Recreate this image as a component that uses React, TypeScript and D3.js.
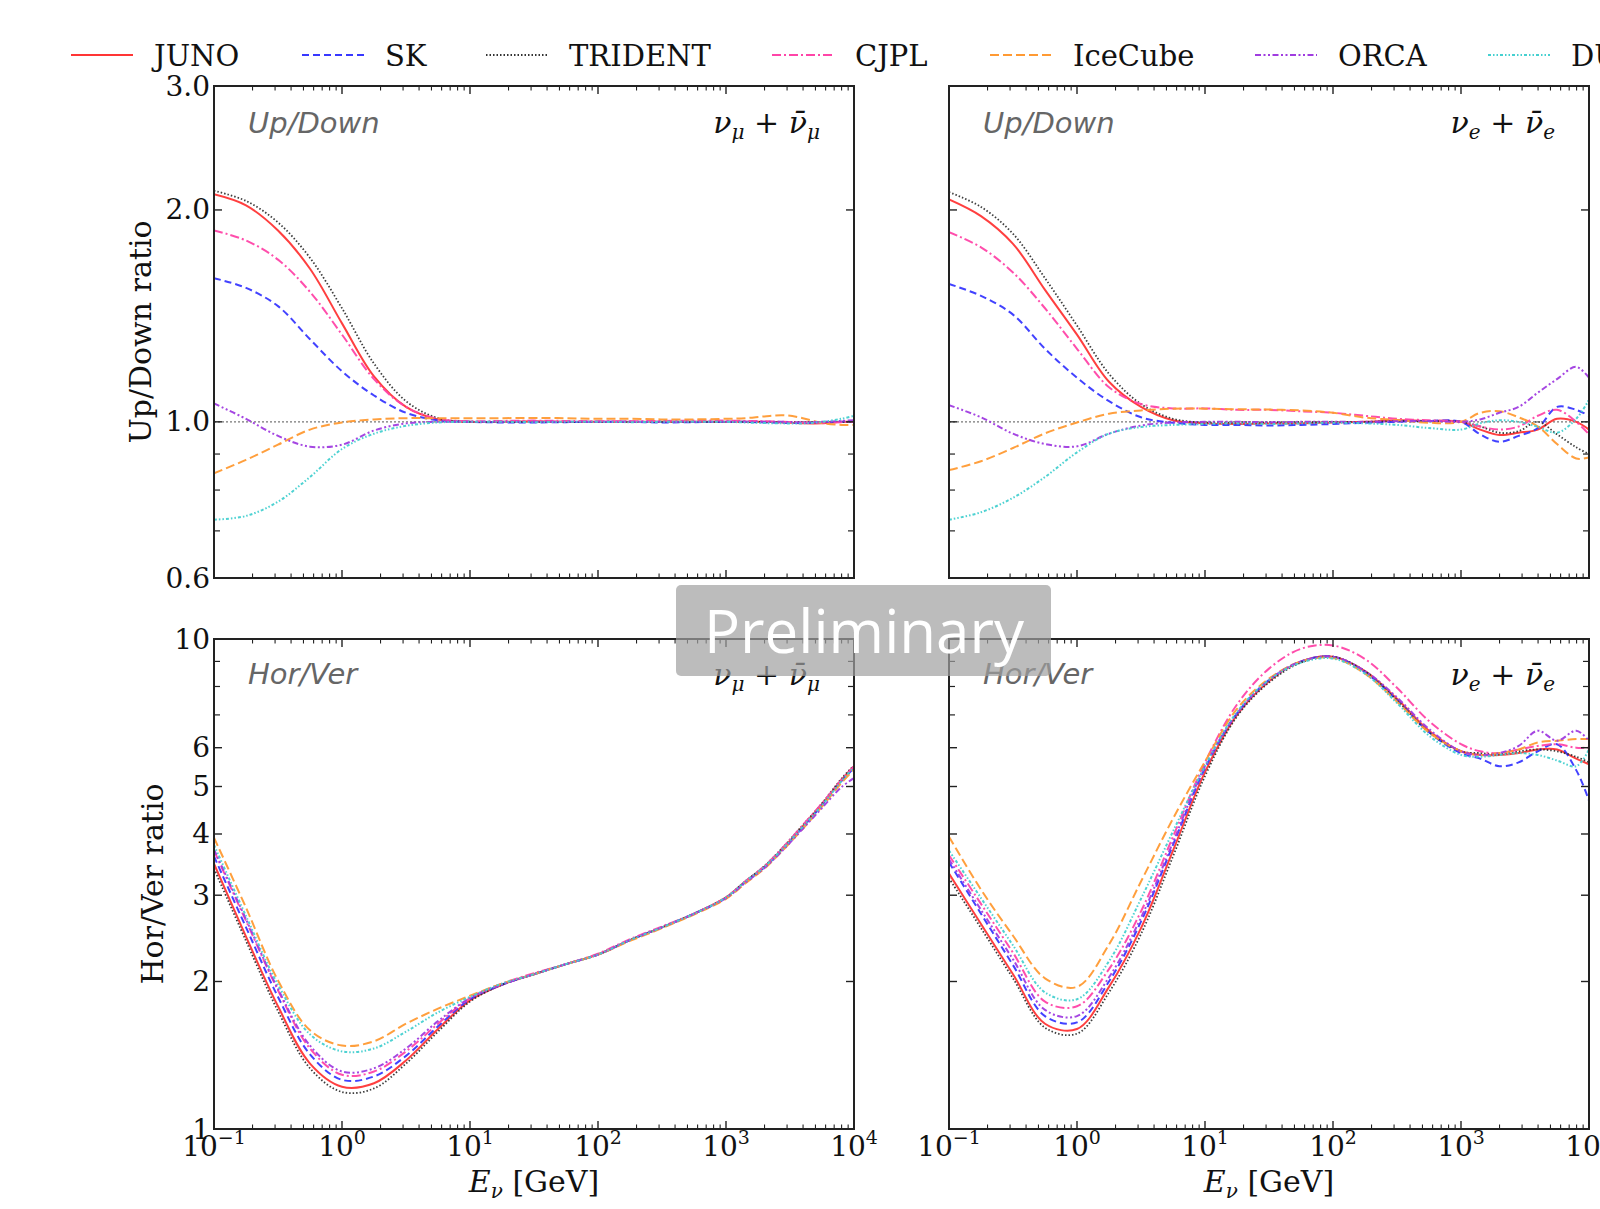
import React from 'react';
import * as d3 from 'd3';

// ---------- data ----------
const LOG_E = [-1, -0.75, -0.5, -0.25, 0, 0.25, 0.5, 0.75, 1, 1.25, 1.5, 1.75, 2, 2.25, 2.5, 2.75, 3, 3.15, 3.3, 3.45, 3.6, 3.75, 3.9, 4];

const SERIES = ['JUNO', 'SK', 'TRIDENT', 'CJPL', 'IceCube', 'ORCA', 'DUNE'];

// Up/Down, nu_mu + nubar_mu
const UD_MU_JUNO = [2.105, 2.03, 1.87, 1.65, 1.38, 1.16, 1.05, 1.008, 1.0, 1.0, 1.002, 1.0, 1.0, 1.0, 1.0, 1.0, 1.0, 1.0, 1.0, 0.998, 0.995, 0.995, 1.0, 1.0];
const UD_MU_SK = [1.6, 1.55, 1.46, 1.31, 1.18, 1.09, 1.03, 1.005, 1.0, 0.998, 0.998, 0.999, 1.0, 1.0, 0.998, 0.999, 1.0, 1.0, 0.998, 0.997, 0.996, 0.998, 1.0, 1.0];
const UD_MU_TRIDENT = [2.13, 2.06, 1.92, 1.71, 1.45, 1.21, 1.07, 1.012, 1.0, 1.0, 1.0, 1.0, 1.0, 1.0, 1.0, 1.0, 1.0, 1.0, 1.0, 1.0, 1.0, 1.0, 1.0, 1.0];
const UD_MU_CJPL = [1.87, 1.81, 1.7, 1.53, 1.33, 1.15, 1.05, 1.01, 1.002, 1.003, 1.004, 1.003, 1.002, 1.002, 1.003, 1.004, 1.004, 1.003, 1.002, 1.0, 0.998, 0.997, 0.999, 1.0];
const UD_MU_ICECUBE = [0.845, 0.883, 0.928, 0.975, 0.998, 1.008, 1.012, 1.012, 1.012, 1.012, 1.013, 1.012, 1.01, 1.01, 1.008, 1.008, 1.01, 1.012, 1.018, 1.022, 1.012, 0.996, 0.99, 0.99];
const UD_MU_ORCA = [1.062, 1.01, 0.955, 0.922, 0.928, 0.972, 0.995, 1.0, 1.0, 1.0, 1.0, 1.0, 1.0, 1.0, 1.0, 1.0, 1.0, 1.0, 1.0, 1.0, 0.998, 1.0, 1.003, 1.005];
const UD_MU_DUNE = [0.726, 0.735, 0.77, 0.835, 0.915, 0.962, 0.987, 0.998, 1.0, 1.0, 0.999, 1.0, 1.0, 0.999, 1.0, 1.0, 1.0, 0.998, 0.996, 0.995, 0.995, 1.0, 1.01, 1.02];

// Up/Down, nu_e + nubar_e
const UD_E_JUNO = [2.07, 1.96, 1.79, 1.54, 1.33, 1.14, 1.05, 1.005, 0.995, 0.993, 0.995, 0.995, 0.998, 1.0, 1.005, 1.003, 1.0, 0.975, 0.958, 0.965, 0.975, 1.01, 1.0, 0.975];
const UD_E_SK = [1.57, 1.51, 1.42, 1.27, 1.155, 1.07, 1.015, 0.997, 0.99, 0.99, 0.988, 0.99, 0.993, 0.997, 1.0, 1.003, 1.0, 0.96, 0.937, 0.955, 0.98, 1.05, 1.04, 1.02];
const UD_E_TRIDENT = [2.12, 2.02, 1.85, 1.6, 1.37, 1.17, 1.06, 1.01, 0.998, 0.998, 0.998, 0.999, 1.0, 1.0, 1.003, 1.002, 1.0, 0.985, 0.965, 0.97, 1.0, 0.96, 0.92, 0.9];
const UD_E_CJPL = [1.86, 1.77, 1.63, 1.45, 1.27, 1.12, 1.06, 1.045, 1.045, 1.04, 1.04, 1.035, 1.03, 1.02, 1.01, 1.005, 1.0, 0.985, 0.975, 0.985, 1.02, 1.04, 1.0, 0.96];
const UD_E_ICECUBE = [0.854, 0.879, 0.918, 0.963, 0.998, 1.027, 1.038, 1.044, 1.044, 1.042, 1.041, 1.038, 1.03, 1.014, 1.006, 0.997, 1.0, 1.03, 1.035, 1.015, 0.985, 0.93, 0.887, 0.89];
const UD_E_ORCA = [1.056, 1.015, 0.962, 0.93, 0.923, 0.962, 0.988, 0.998, 1.0, 1.0, 0.999, 1.0, 1.0, 1.0, 1.002, 1.003, 1.0, 1.008, 1.03, 1.05, 1.1, 1.15, 1.197, 1.155];
const UD_E_DUNE = [0.726, 0.744, 0.78, 0.835, 0.905, 0.962, 0.983, 0.99, 0.993, 0.995, 0.993, 0.995, 0.997, 0.995, 0.99, 0.98, 0.975, 0.995, 1.005, 1.0, 0.984, 0.965, 1.01, 1.075];

// Hor/Ver, nu_mu + nubar_mu
const HV_MU_JUNO = [3.48, 2.47, 1.78, 1.36, 1.22, 1.24, 1.38, 1.6, 1.83, 1.97, 2.07, 2.17, 2.27, 2.43, 2.58, 2.75, 2.97, 3.2, 3.43, 3.75, 4.15, 4.6, 5.15, 5.5];
const HV_MU_SK = [3.6, 2.58, 1.86, 1.42, 1.26, 1.28, 1.41, 1.62, 1.84, 1.97, 2.07, 2.17, 2.27, 2.43, 2.58, 2.75, 2.96, 3.19, 3.42, 3.74, 4.13, 4.58, 5.12, 5.45];
const HV_MU_TRIDENT = [3.4, 2.42, 1.74, 1.33, 1.19, 1.21, 1.36, 1.58, 1.82, 1.97, 2.07, 2.17, 2.27, 2.43, 2.58, 2.75, 2.97, 3.2, 3.44, 3.77, 4.17, 4.62, 5.18, 5.52];
const HV_MU_CJPL = [3.7, 2.66, 1.92, 1.46, 1.29, 1.31, 1.44, 1.64, 1.85, 1.98, 2.08, 2.17, 2.28, 2.44, 2.59, 2.75, 2.97, 3.2, 3.44, 3.77, 4.17, 4.62, 5.15, 5.5];
const HV_MU_ICECUBE = [3.93, 2.83, 2.01, 1.59, 1.48, 1.51, 1.64, 1.76, 1.87, 1.98, 2.07, 2.17, 2.27, 2.42, 2.57, 2.74, 2.95, 3.17, 3.4, 3.72, 4.1, 4.55, 5.08, 5.42];
const HV_MU_ORCA = [3.72, 2.68, 1.93, 1.48, 1.31, 1.33, 1.46, 1.66, 1.85, 1.97, 2.07, 2.17, 2.27, 2.43, 2.58, 2.75, 2.96, 3.18, 3.41, 3.72, 4.1, 4.52, 4.98, 5.2];
const HV_MU_DUNE = [3.8, 2.72, 1.97, 1.56, 1.44, 1.46, 1.58, 1.73, 1.86, 1.98, 2.07, 2.17, 2.27, 2.43, 2.58, 2.75, 2.97, 3.2, 3.43, 3.75, 4.14, 4.58, 5.12, 5.48];

// Hor/Ver, nu_e + nubar_e
const HV_E_JUNO = [3.32, 2.62, 2.07, 1.64, 1.6, 1.95, 2.57, 3.7, 5.35, 7.0, 8.2, 9.0, 9.2, 8.6, 7.55, 6.5, 5.9, 5.8, 5.8, 5.85, 5.95, 5.95, 5.7, 5.55];
const HV_E_SK = [3.5, 2.75, 2.16, 1.7, 1.65, 2.0, 2.65, 3.8, 5.45, 7.05, 8.25, 9.0, 9.2, 8.55, 7.5, 6.45, 5.85, 5.7, 5.5, 5.6, 5.9, 6.1, 5.4, 4.68];
const HV_E_TRIDENT = [3.25, 2.57, 2.03, 1.61, 1.565, 1.9, 2.5, 3.6, 5.25, 6.95, 8.15, 8.95, 9.2, 8.6, 7.5, 6.45, 5.9, 5.85, 5.82, 5.9, 5.95, 5.9, 5.75, 5.6];
const HV_E_CJPL = [3.62, 2.88, 2.29, 1.82, 1.78, 2.12, 2.78, 3.95, 5.6, 7.35, 8.7, 9.55, 9.7, 9.1, 7.95, 6.8, 6.1, 5.9, 5.85, 5.95, 6.05, 6.1, 6.0, 6.0];
const HV_E_ICECUBE = [3.95, 3.08, 2.48, 2.03, 1.95, 2.38, 3.2, 4.3, 5.62, 7.2, 8.3, 9.0, 9.15, 8.5, 7.45, 6.45, 5.9, 5.8, 5.85, 5.95, 6.15, 6.2, 6.25, 6.25];
const HV_E_ORCA = [3.55, 2.8, 2.22, 1.75, 1.7, 2.04, 2.7, 3.85, 5.5, 7.05, 8.25, 9.0, 9.2, 8.6, 7.6, 6.55, 5.9, 5.8, 5.85, 6.05, 6.5, 6.2, 6.5, 6.2];
const HV_E_DUNE = [3.7, 2.96, 2.37, 1.9, 1.84, 2.2, 2.95, 4.05, 5.5, 7.1, 8.25, 8.95, 9.12, 8.5, 7.4, 6.35, 5.8, 5.75, 5.8, 5.85, 5.8, 5.65, 5.5, 5.95];

const X_MAJOR = [-1, 0, 1, 2, 3, 4];
const UD_TICKS_MAJOR = [0.6, 1.0, 2.0, 3.0];
const UD_TICKS_MINOR = [0.7, 0.8, 0.9];
const UD_TICK_LABELS = ['0.6', '1.0', '2.0', '3.0'];
const HV_TICKS_MAJOR = [1, 2, 3, 4, 5, 6, 10];
const HV_TICKS_MINOR = [7, 8, 9];
const HV_TICK_LABELS = ['1', '2', '3', '4', '5', '6', '10'];

// ---------- styles ----------
const STYLE: Record<string, { color: string; dash: string; width: number }> = {
  JUNO: { color: '#ff3535', dash: '', width: 2 },
  SK: { color: '#3838ff', dash: '7,4', width: 2 },
  TRIDENT: { color: '#333333', dash: '1.5,2', width: 1.8 },
  CJPL: { color: '#ff45a8', dash: '9,3,2,3', width: 2 },
  IceCube: { color: '#ff9a33', dash: '9,4', width: 2 },
  ORCA: { color: '#a03ce0', dash: '6,2.5,2,2.5,2,2.5', width: 2 },
  DUNE: { color: '#45d0d0', dash: '3,2,1.5,2,1.5,2', width: 2 },
};

const PANEL_W = 640;
const COL_X = [214, 949];
const ROW_Y = [86, 639];
const ROW_H = [492, 490];
const SERIF = 'DejaVu Serif';

const DATA = [
  [
    [UD_MU_JUNO, UD_MU_SK, UD_MU_TRIDENT, UD_MU_CJPL, UD_MU_ICECUBE, UD_MU_ORCA, UD_MU_DUNE],
    [UD_E_JUNO, UD_E_SK, UD_E_TRIDENT, UD_E_CJPL, UD_E_ICECUBE, UD_E_ORCA, UD_E_DUNE],
  ],
  [
    [HV_MU_JUNO, HV_MU_SK, HV_MU_TRIDENT, HV_MU_CJPL, HV_MU_ICECUBE, HV_MU_ORCA, HV_MU_DUNE],
    [HV_E_JUNO, HV_E_SK, HV_E_TRIDENT, HV_E_CJPL, HV_E_ICECUBE, HV_E_ORCA, HV_E_DUNE],
  ],
];

function FlavorLabel({ x, y, flavor }: { x: number; y: number; flavor: string }) {
  return (
    <text x={x} y={y} textAnchor="end" fontFamily={SERIF} fontSize={30} fill="#111">
      <tspan fontStyle="italic">ν</tspan>
      <tspan fontStyle="italic" fontSize={20} dy={6}>{flavor}</tspan>
      <tspan dy={-6}> + </tspan>
      <tspan fontStyle="italic">{'ν\u0304'}</tspan>
      <tspan fontStyle="italic" fontSize={20} dy={6}>{flavor}</tspan>
    </text>
  );
}

function Panel({ row, col }: { row: number; col: number }) {
  const x0 = COL_X[col];
  const y0 = ROW_Y[row];
  const h = ROW_H[row];
  const xs = d3.scaleLog().domain([0.1, 1e4]).range([x0, x0 + PANEL_W]);
  const ys = d3.scaleLog().domain(row === 0 ? [0.6, 3] : [1, 10]).range([y0 + h, y0]);
  const majorY = row === 0 ? UD_TICKS_MAJOR : HV_TICKS_MAJOR;
  const minorY = row === 0 ? UD_TICKS_MINOR : HV_TICKS_MINOR;
  const yLabels = row === 0 ? UD_TICK_LABELS : HV_TICK_LABELS;
  const clipId = `clip-${row}-${col}`;
  const line = d3
    .line<number>()
    .x((_, i) => xs(Math.pow(10, LOG_E[i])))
    .y((d) => ys(d))
    .curve(d3.curveCatmullRom.alpha(0.5));

  const minorX: number[] = [];
  for (let k = -1; k < 4; k++) for (let m = 2; m <= 9; m++) minorX.push(m * Math.pow(10, k));

  const tickEls: React.ReactNode[] = [];
  const stroke = '#222';
  X_MAJOR.forEach((k) => {
    const x = xs(Math.pow(10, k));
    tickEls.push(<line key={`xb${k}`} x1={x} x2={x} y1={y0 + h} y2={y0 + h - 8} stroke={stroke} strokeWidth={1.4} />);
    tickEls.push(<line key={`xt${k}`} x1={x} x2={x} y1={y0} y2={y0 + 8} stroke={stroke} strokeWidth={1.4} />);
  });
  minorX.forEach((v, i) => {
    const x = xs(v);
    tickEls.push(<line key={`mxb${i}`} x1={x} x2={x} y1={y0 + h} y2={y0 + h - 4.5} stroke={stroke} strokeWidth={1.1} />);
    tickEls.push(<line key={`mxt${i}`} x1={x} x2={x} y1={y0} y2={y0 + 4.5} stroke={stroke} strokeWidth={1.1} />);
  });
  majorY.forEach((v, i) => {
    const y = ys(v);
    tickEls.push(<line key={`yl${i}`} x1={x0} x2={x0 + 8} y1={y} y2={y} stroke={stroke} strokeWidth={1.4} />);
    tickEls.push(<line key={`yr${i}`} x1={x0 + PANEL_W} x2={x0 + PANEL_W - 8} y1={y} y2={y} stroke={stroke} strokeWidth={1.4} />);
  });
  minorY.forEach((v, i) => {
    const y = ys(v);
    tickEls.push(<line key={`myl${i}`} x1={x0} x2={x0 + 6} y1={y} y2={y} stroke={stroke} strokeWidth={1.2} />);
    tickEls.push(<line key={`myr${i}`} x1={x0 + PANEL_W} x2={x0 + PANEL_W - 6} y1={y} y2={y} stroke={stroke} strokeWidth={1.2} />);
  });

  const series = DATA[row][col];

  return (
    <g>
      <defs>
        <clipPath id={clipId}>
          <rect x={x0} y={y0} width={PANEL_W} height={h} />
        </clipPath>
      </defs>
      <g clipPath={`url(#${clipId})`}>
        {row === 0 && (
          <line x1={x0} x2={x0 + PANEL_W} y1={ys(1)} y2={ys(1)} stroke="#777" strokeWidth={1.2} strokeDasharray="2,2" />
        )}
        {SERIES.map((name, si) => (
          <path
            key={name}
            d={line(series[si]) || ''}
            fill="none"
            stroke={STYLE[name].color}
            strokeWidth={STYLE[name].width}
            strokeDasharray={STYLE[name].dash || undefined}
            strokeOpacity={0.95}
          />
        ))}
      </g>
      {tickEls}
      <rect x={x0} y={y0} width={PANEL_W} height={h} fill="none" stroke={stroke} strokeWidth={2} />
      {col === 0 &&
        majorY.map((v, i) => (
          <text key={`yt${i}`} x={x0 - 4} y={ys(v)} textAnchor="end" dominantBaseline="central" fontFamily={SERIF} fontSize={28} fill="#111">
            {yLabels[i]}
          </text>
        ))}
      {row === 1 &&
        X_MAJOR.map((k) => (
          <text key={`xl${k}`} x={xs(Math.pow(10, k))} y={1156} textAnchor="middle" fontFamily={SERIF} fontSize={28} fill="#111">
            10
            <tspan fontSize={19} dy={-12}>{k < 0 ? `\u2212${-k}` : `${k}`}</tspan>
          </text>
        ))}
      <text
        x={x0 + 34}
        y={row === 0 ? y0 + 47 : y0 + 45}
        fontFamily="DejaVu Sans"
        fontStyle="italic"
        fontSize={29}
        fill="#666"
      >
        {row === 0 ? 'Up/Down' : 'Hor/Ver'}
      </text>
      <FlavorLabel x={x0 + PANEL_W - 34} y={row === 0 ? y0 + 47 : y0 + 46} flavor={col === 0 ? 'μ' : 'e'} />
    </g>
  );
}

export default function App() {
  const legendLineX = [71, 302, 486, 772, 990, 1255, 1488];
  return (
    <svg
      width={1600}
      height={1209}
      viewBox="0 0 1600 1209"
      style={{ position: 'absolute', left: 0, top: 0, background: '#fff' }}
    >
      <rect x={0} y={0} width={1600} height={1209} fill="#fff" />
      {/* legend */}
      {SERIES.map((name, i) => (
        <g key={name}>
          <line
            x1={legendLineX[i]}
            x2={legendLineX[i] + 62}
            y1={55}
            y2={55}
            stroke={STYLE[name].color}
            strokeWidth={STYLE[name].width}
            strokeDasharray={STYLE[name].dash || undefined}
          />
          <text x={legendLineX[i] + 83} y={66} fontFamily={SERIF} fontSize={29} fill="#111">
            {name}
          </text>
        </g>
      ))}
      {[0, 1].map((r) => [0, 1].map((c) => <Panel key={`${r}-${c}`} row={r} col={c} />))}
      {/* axis labels */}
      <text transform="translate(151,332) rotate(-90)" textAnchor="middle" fontFamily={SERIF} fontSize={30} fill="#111">
        Up/Down ratio
      </text>
      <text transform="translate(163,884) rotate(-90)" textAnchor="middle" fontFamily={SERIF} fontSize={30} fill="#111">
        Hor/Ver ratio
      </text>
      {[534, 1269].map((cx, i) => (
        <text key={i} x={cx} y={1192} textAnchor="middle" fontFamily={SERIF} fontSize={30} fill="#111">
          <tspan fontStyle="italic">E</tspan>
          <tspan fontStyle="italic" fontSize={20} dy={6}>ν</tspan>
          <tspan dy={-6}> [GeV]</tspan>
        </text>
      ))}
      {/* Preliminary stamp */}
      <rect x={676} y={585} width={375} height={91} rx={5} fill="#a0a0a0" fillOpacity={0.7} />
      <text x={864} y={653} textAnchor="middle" fontFamily="Open Sans" fontSize={60} fill="#fff">
        Preliminary
      </text>
    </svg>
  );
}
